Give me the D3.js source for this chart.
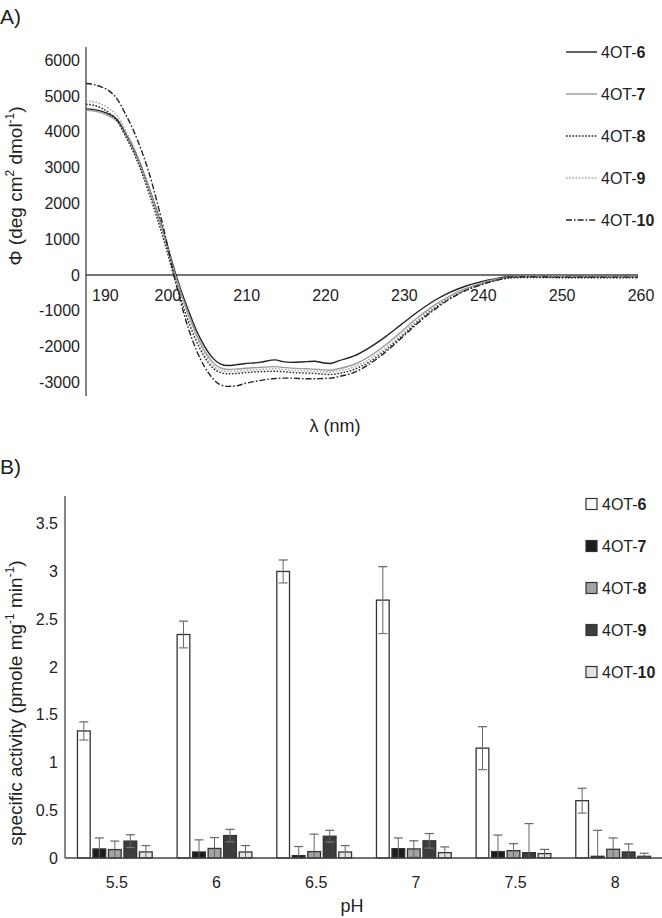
<!DOCTYPE html>
<html>
<head>
<meta charset="utf-8">
<script src="https://cdn.jsdelivr.net/npm/d3@7"></script>
<style>
  body { margin: 0; background: #fff; }
  text { font-family: "Liberation Sans", Arial, sans-serif; fill: #222; }
</style>
</head>
<body>
<svg id="chart" width="662" height="918"></svg>
<script>
// ---- panel A data: CD spectra ----
const wavelengths = [190,191,192,193,194,195,196,197,198,199,200,201,202,203,204,205,206,207,208,209,210,212,214,215,216,218,219,220,221,222,224,226,228,230,232,234,236,238,240,242,244,246,248,250,252,254,256,258,260];
const cd6 = [4640,4620,4570,4480,4330,3960,3550,3030,2430,1780,1080,300,-400,-1000,-1550,-1980,-2300,-2480,-2530,-2510,-2480,-2440,-2370,-2420,-2440,-2420,-2410,-2450,-2470,-2400,-2260,-2020,-1720,-1380,-1040,-740,-500,-320,-190,-100,-40,-30,-35,-40,-40,-40,-40,-40,-40];
const cd7 = [4600,4580,4530,4430,4280,3920,3500,2980,2380,1720,1020,230,-480,-1100,-1660,-2100,-2420,-2590,-2640,-2630,-2610,-2580,-2560,-2580,-2600,-2620,-2630,-2650,-2660,-2620,-2500,-2270,-1950,-1580,-1200,-870,-600,-390,-240,-120,-60,-40,-45,-50,-50,-55,-50,-50,-50];
const cd8 = [4770,4740,4660,4520,4300,3880,3440,2900,2280,1600,880,80,-650,-1300,-1850,-2280,-2580,-2720,-2760,-2750,-2730,-2700,-2690,-2700,-2720,-2740,-2750,-2770,-2780,-2750,-2640,-2420,-2100,-1720,-1320,-960,-660,-430,-270,-150,-80,-70,-70,-75,-75,-80,-80,-80,-80];
const cd9 = [4870,4840,4770,4640,4440,4050,3600,3060,2440,1760,1040,240,-500,-1150,-1720,-2180,-2500,-2660,-2700,-2690,-2670,-2640,-2620,-2640,-2660,-2680,-2690,-2710,-2710,-2680,-2570,-2350,-2030,-1660,-1270,-920,-630,-410,-250,-130,-40,-20,-30,-20,-40,-20,-30,-40,-30];
const cd10 = [5350,5320,5250,5130,4900,4500,4050,3500,2850,2050,1150,150,-750,-1500,-2100,-2550,-2870,-3060,-3110,-3100,-3040,-2950,-2890,-2880,-2880,-2900,-2900,-2890,-2880,-2840,-2720,-2480,-2150,-1760,-1360,-1000,-690,-450,-280,-150,-60,-50,-55,-60,-60,-60,-60,-60,-60];
const cdTicksY = [6000,5000,4000,3000,2000,1000,0,-1000,-2000,-3000];
const cdTicksX = [190,200,210,220,230,240,250,260];

// ---- panel B data: specific activity ----
const phLabels = ["5.5","6","6.5","7","7.5","8"];
const variants = ["6","7","8","9","10"];
const act6 = [1.33,2.34,3.0,2.70,1.15,0.60];
const act7 = [0.095,0.063,0.025,0.098,0.067,0.018];
const act8 = [0.088,0.10,0.067,0.095,0.077,0.091];
const act9 = [0.177,0.235,0.228,0.18,0.056,0.063];
const act10 = [0.064,0.063,0.063,0.056,0.046,0.018];
const err6 = [0.095,0.14,0.12,0.35,0.225,0.13];
const err7 = [0.115,0.127,0.095,0.112,0.173,0.272];
const err8 = [0.089,0.114,0.183,0.085,0.073,0.119];
const err9 = [0.067,0.065,0.062,0.076,0.304,0.084];
const err10 = [0.066,0.067,0.067,0.06,0.044,0.032];
const actTicksY = [0,0.5,1,1.5,2,2.5,3,3.5];

const svg = d3.select("#chart");

// line styles for the spectra
const lineStyle = {
  "6":  { stroke: "#222", dash: null },
  "7":  { stroke: "#9a9a9a", dash: null },
  "8":  { stroke: "#222", dash: "1.6,1.6" },
  "9":  { stroke: "#a5a5a5", dash: "1.6,1.6" },
  "10": { stroke: "#222", dash: "6,2,1.6,2" }
};
const barFill = { "6": "#fff", "7": "#1c1c1c", "8": "#a3a3a3", "9": "#3d3d3d", "10": "#e3e3e3" };

// label with "4OT-" plus bold number
function variantLabel(sel, v) {
  sel.append("tspan").text("4OT-");
  sel.append("tspan").attr("font-weight", "bold").text(v);
}

// ================= Panel A =================
svg.append("text").attr("x", 0).attr("y", 24).attr("font-size", 21).text("A)");

const x = d3.scaleLinear().domain([190, 260]).range([86, 638]);
const y = d3.scaleLinear().domain([-3380, 6370]).range([396, 47]);

const gA = svg.append("g");
gA.append("line").attr("x1", 86).attr("x2", 86).attr("y1", y.range()[1]).attr("y2", y.range()[0])
  .attr("stroke", "#444").attr("stroke-width", 1.3);
gA.append("line").attr("x1", 86).attr("x2", x(260)).attr("y1", y(0)).attr("y2", y(0))
  .attr("stroke", "#444").attr("stroke-width", 1.3);

gA.selectAll("text.ytick").data(cdTicksY).enter().append("text")
  .attr("class", "ytick")
  .attr("x", 80).attr("y", d => y(d)).attr("dy", "0.35em")
  .attr("text-anchor", "end").attr("font-size", 16)
  .text(d => d);

gA.selectAll("text.xtick").data(cdTicksX).enter().append("text")
  .attr("class", "xtick")
  .attr("x", (d, i) => i === 0 ? x(d) + 6 : x(d) + 3)
  .attr("y", y(0) + 26)
  .attr("text-anchor", (d, i) => i === 0 ? "start" : "middle")
  .attr("font-size", 16)
  .text(d => d);

const cdSeries = [
  { name: "6", values: cd6 },
  { name: "7", values: cd7 },
  { name: "8", values: cd8 },
  { name: "9", values: cd9 },
  { name: "10", values: cd10 }
];

const line = d3.line()
  .x((d, i) => x(wavelengths[i]))
  .y(d => y(d))
  .curve(d3.curveMonotoneX);

gA.selectAll("path.cd").data(cdSeries).enter().append("path")
  .attr("class", "cd")
  .attr("d", d => line(d.values))
  .attr("fill", "none")
  .attr("stroke", d => lineStyle[d.name].stroke)
  .attr("stroke-width", 1.4)
  .attr("stroke-dasharray", d => lineStyle[d.name].dash);

// y title
const yTitleA = gA.append("text")
  .attr("transform", "translate(22,186) rotate(-90)")
  .attr("text-anchor", "middle").attr("font-size", 19);
yTitleA.append("tspan").text("Φ (deg cm");
yTitleA.append("tspan").attr("font-size", 12).attr("dy", -8).text("2");
yTitleA.append("tspan").attr("dy", 8).text(" dmol");
yTitleA.append("tspan").attr("font-size", 12).attr("dy", -8).text("-1");
yTitleA.append("tspan").attr("dy", 8).text(")");

gA.append("text").attr("x", 335).attr("y", 432).attr("text-anchor", "middle")
  .attr("font-size", 18).text("λ (nm)");

// legend A
const legA = gA.selectAll("g.legA").data(variants).enter().append("g")
  .attr("class", "legA")
  .attr("transform", (d, i) => "translate(566," + (52 + i * 42) + ")");
legA.append("line").attr("x1", 0).attr("x2", 31).attr("y1", 0).attr("y2", 0)
  .attr("stroke", d => lineStyle[d].stroke)
  .attr("stroke-width", 1.4)
  .attr("stroke-dasharray", d => lineStyle[d].dash);
legA.append("text").attr("x", 35).attr("dy", "0.35em").attr("font-size", 16)
  .each(function(d) { variantLabel(d3.select(this), d); });

// ================= Panel B =================
svg.append("text").attr("x", 0).attr("y", 474).attr("font-size", 21).text("B)");

const x0 = d3.scaleBand().domain(phLabels).range([65, 663]).paddingInner(0.25).paddingOuter(0.125);
const x1 = d3.scaleBand().domain(variants).range([0, x0.bandwidth()]).paddingInner(0.18);
const yB = d3.scaleLinear().domain([0, 3.79]).range([858, 496]);

const gB = svg.append("g");

gB.selectAll("text.ytick").data(actTicksY).enter().append("text")
  .attr("class", "ytick")
  .attr("x", 58).attr("y", d => yB(d)).attr("dy", "0.35em")
  .attr("text-anchor", "end").attr("font-size", 16)
  .text(d => d);

gB.selectAll("text.xtick").data(phLabels).enter().append("text")
  .attr("class", "xtick")
  .attr("x", d => x0(d) + x0.bandwidth() / 2 + 2)
  .attr("y", 888)
  .attr("text-anchor", "middle").attr("font-size", 16)
  .text(d => d);

const acts = { "6": act6, "7": act7, "8": act8, "9": act9, "10": act10 };
const errs = { "6": err6, "7": err7, "8": err8, "9": err9, "10": err10 };

const barData = [];
phLabels.forEach((ph, i) => {
  variants.forEach(v => {
    barData.push({ ph: ph, v: v, value: acts[v][i], err: errs[v][i] });
  });
});

gB.selectAll("rect.bar").data(barData).enter().append("rect")
  .attr("class", "bar")
  .attr("x", d => x0(d.ph) + x1(d.v))
  .attr("width", x1.bandwidth())
  .attr("y", d => yB(d.value))
  .attr("height", d => yB(0) - yB(d.value))
  .attr("fill", d => barFill[d.v])
  .attr("stroke", "#333")
  .attr("stroke-width", 1.3);

// error bars
const eb = gB.selectAll("g.err").data(barData).enter().append("g")
  .attr("class", "err")
  .attr("transform", d => "translate(" + (x0(d.ph) + x1(d.v) + x1.bandwidth() / 2) + ",0)");
eb.append("line")
  .attr("y1", d => yB(d.value + d.err))
  .attr("y2", d => yB(Math.max(0, d.value - d.err)))
  .attr("stroke", "#666").attr("stroke-width", 1);
eb.append("line")
  .attr("x1", -4.5).attr("x2", 4.5)
  .attr("y1", d => yB(d.value + d.err)).attr("y2", d => yB(d.value + d.err))
  .attr("stroke", "#666").attr("stroke-width", 1.2);
eb.filter(d => d.value - d.err > 0).append("line")
  .attr("x1", -4.5).attr("x2", 4.5)
  .attr("y1", d => yB(d.value - d.err)).attr("y2", d => yB(d.value - d.err))
  .attr("stroke", "#777").attr("stroke-width", 1.2);

// axes lines
gB.append("line").attr("x1", 65).attr("x2", 65).attr("y1", yB.range()[1]).attr("y2", yB(0))
  .attr("stroke", "#444").attr("stroke-width", 1.3);
gB.append("line").attr("x1", 65).attr("x2", 662).attr("y1", yB(0)).attr("y2", yB(0))
  .attr("stroke", "#444").attr("stroke-width", 1.3);

const yTitleB = gB.append("text")
  .attr("transform", "translate(22,703) rotate(-90)")
  .attr("text-anchor", "middle").attr("font-size", 19);
yTitleB.append("tspan").text("specific activity (pmole mg");
yTitleB.append("tspan").attr("font-size", 12).attr("dy", -8).text("-1");
yTitleB.append("tspan").attr("dy", 8).text(" min");
yTitleB.append("tspan").attr("font-size", 12).attr("dy", -8).text("-1");
yTitleB.append("tspan").attr("dy", 8).text(")");

gB.append("text").attr("x", 352).attr("y", 912).attr("text-anchor", "middle")
  .attr("font-size", 18).text("pH");

// legend B
const legB = gB.selectAll("g.legB").data(variants).enter().append("g")
  .attr("class", "legB")
  .attr("transform", (d, i) => "translate(586," + (504 + i * 42) + ")");
legB.append("rect").attr("x", 0).attr("y", -5.5).attr("width", 11).attr("height", 11)
  .attr("fill", d => barFill[d]).attr("stroke", "#333").attr("stroke-width", 1.2);
legB.append("text").attr("x", 16).attr("dy", "0.35em").attr("font-size", 16)
  .each(function(d) { variantLabel(d3.select(this), d); });
</script>
</body>
</html>
